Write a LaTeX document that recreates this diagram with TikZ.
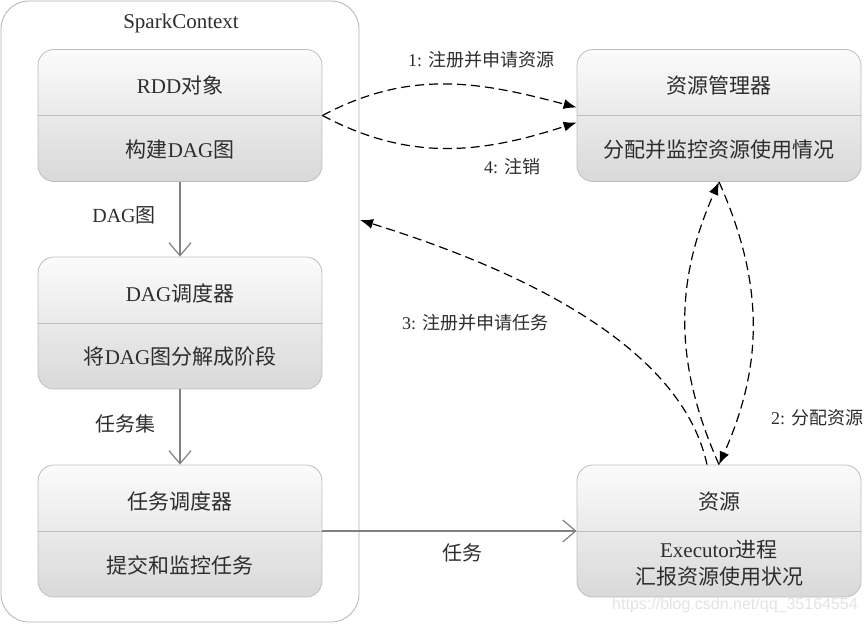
\documentclass[tikz,border=0pt]{standalone}
\usepackage{fontspec}
\setmainfont{Liberation Serif}
\newfontfamily\cjk{Noto Sans CJK SC}
\newfontfamily\wmfont{Liberation Sans}
\newcommand{\zh}[1]{{\cjk #1}}
\definecolor{boxline}{RGB}{190, 190, 190}
\definecolor{flowgray}{RGB}{128, 128, 128}
\definecolor{textgray}{RGB}{45, 45, 45}
\usetikzlibrary{arrows.meta, positioning}

\begin{document}
\begin{tikzpicture}[x=1pt, y=1pt,
  stage/.style={draw=boxline, line width=0.8pt, top color=gray!3, bottom color=gray!30, rounded corners=16pt, minimum width=284pt, minimum height=132pt},
  divider/.style={draw=boxline, line width=0.8pt},
  boxtext/.style={font=\fontsize{21}{27}\selectfont, text=textgray, align=center},
  flowlabel/.style={font=\fontsize{20}{24}\selectfont, text=textgray},
  msglabel/.style={font=\fontsize{18}{22}\selectfont, text=textgray},
  flow/.style={draw=flowgray, line width=1.2pt, -{Straight Barb[length=13pt, width=22pt]}},
  msg/.style={draw=black, line width=1.2pt, dash pattern=on 9pt off 5pt, -{Latex[length=13pt, width=10pt]}}]

  \useasboundingbox (0,0) rectangle (866,625);

  % SparkContext frame
  \node[draw=gray!60, line width=0.8pt, rounded corners=28pt, minimum width=358pt, minimum height=621pt] (spark) at (180,313.5) {};
  \node[boxtext] (sparkname) at (181,602) {SparkContext};

  % Driver side stages
  \node[stage] (rdd) at (180,509.5) {};
  \draw[divider] (rdd.west) -- (rdd.east);
  \node[boxtext] (rddname) at ([yshift=30pt]rdd.center) {RDD\zh{对象}};
  \node[boxtext] (rdddesc) at ([yshift=-34pt]rdd.center) {\zh{构建}DAG\zh{图}};

  \node[stage] (dag) at (180,302) {};
  \draw[divider] (dag.west) -- (dag.east);
  \node[boxtext] (dagname) at ([yshift=30pt]dag.center) {DAG\zh{调度器}};
  \node[boxtext] (dagdesc) at ([yshift=-34pt]dag.center) {\zh{将}DAG\zh{图分解成阶段}};

  \node[stage] (task) at (180,94) {};
  \draw[divider] (task.west) -- (task.east);
  \node[boxtext] (taskname) at ([yshift=30pt]task.center) {\zh{任务调度器}};
  \node[boxtext] (taskdesc) at ([yshift=-34pt]task.center) {\zh{提交和监控任务}};

  % Cluster side
  \node[stage] (rm) at (719,509.5) {};
  \draw[divider] (rm.west) -- (rm.east);
  \node[boxtext] (rmname) at ([yshift=30pt]rm.center) {\zh{资源管理器}};
  \node[boxtext] (rmdesc) at ([yshift=-34pt]rm.center) {\zh{分配并监控资源使用情况}};

  \node[stage] (res) at (719,94) {};
  \draw[divider] (res.west) -- (res.east);
  \node[boxtext] (resname) at ([yshift=29pt]res.center) {\zh{资源}};
  \node[boxtext] (resdesc) at ([yshift=-32pt]res.center) {Executor\zh{进程}\\\zh{汇报资源使用状况}};

  % Solid flows
  \draw[flow] (rdd.south) -- (dag.north);
  \node[flowlabel] (dagflow) at (124,410) {DAG\zh{图}};
  \draw[flow] (dag.south) -- (task.north);
  \node[flowlabel] (taskset) at (125,201) {\zh{任务集}};
  \draw[flow] (task.east) -- (res.west);
  \node[flowlabel] (taskflow) at (462,72) {\zh{任务}};

  % Messages
  \draw[msg] (rdd.east) to[out=28, in=165] ([yshift=8pt]rm.west);
  \draw[msg] (rdd.east) to[out=-28, in=-162] ([yshift=-7pt]rm.west);
  \node[msglabel] (register) at (481,565) {1: \zh{注册并申请资源}};
  \node[msglabel] (logout) at (512,458) {4: \zh{注销}};

  \draw[msg] (res.north) to[out=114, in=-114] (rm.south);
  \draw[msg] (rm.south) to[out=-66, in=66] (res.north);
  \node[msglabel] (assign) at (817,207) {2: \zh{分配资源}};

  \coordinate (ctxin) at (360,405);
  \draw[msg] ([xshift=-12pt]res.north) .. controls (680,285) and (505,360) .. (ctxin);
  \node[msglabel] (request) at (475,302) {3: \zh{注册并申请任务}};

  \node[font=\wmfont\fontsize{16}{18}\selectfont, text=gray!22] (mark) at (735,20) {https://blog.csdn.net/qq\_35164554};
\end{tikzpicture}
\end{document}
